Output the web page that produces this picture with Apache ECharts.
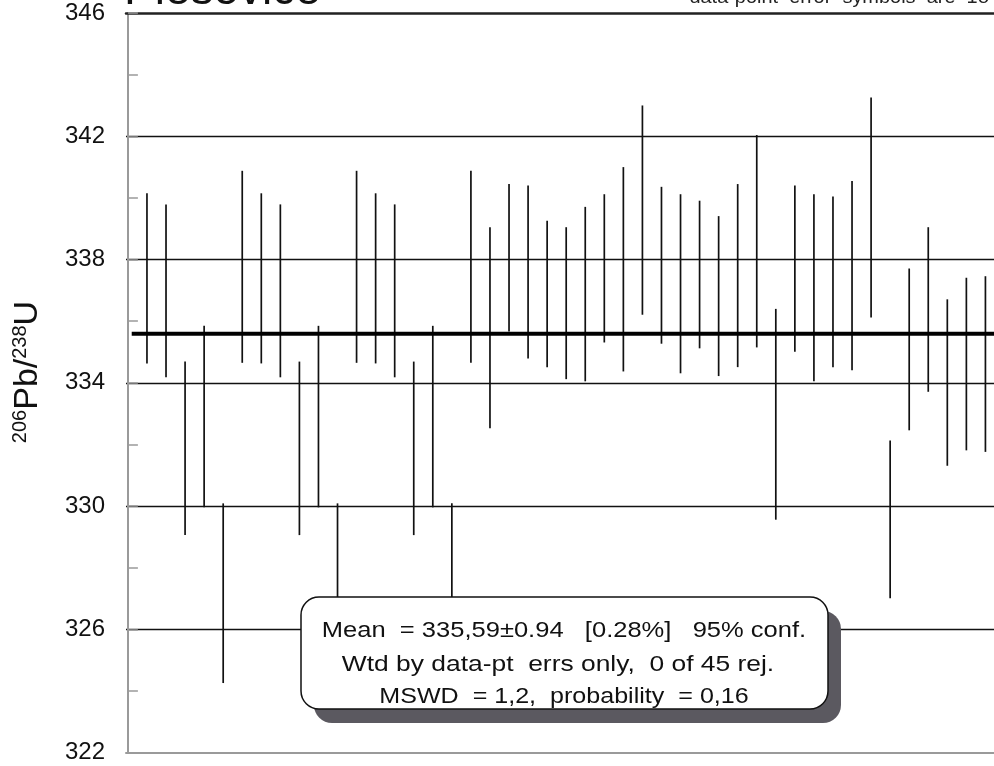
<!DOCTYPE html>
<html>
<head>
<meta charset="utf-8">
<script src="https://cdn.jsdelivr.net/npm/echarts@6/dist/echarts.min.js"></script>
<style>
html,body{margin:0;padding:0;background:#fff;}
#chart{width:994px;height:766px;}
</style>
</head>
<body>
<div id="chart"></div>
<script>
// ---- data ----
const title = 'Plešovice';
const noteText = 'data-point  error  symbols  are  1σ';
const yTicks = [322, 326, 330, 334, 338, 342, 346];
const lowerValues = [
  334.63, 334.18, 329.06, 329.96, 324.26, 334.65,
  334.63, 334.18, 329.06, 329.96, 324.26, 334.65,
  334.63, 334.18, 329.06, 329.96, 324.26, 334.65,
  332.53, 335.67, 334.79, 334.51, 334.12, 334.05,
  335.31, 334.37, 336.21, 335.27, 334.31, 335.12,
  334.22, 334.51, 335.15, 329.56, 335.01, 334.05,
  334.51, 334.41, 336.12, 327.01, 332.46, 333.71,
  331.31, 331.81, 331.76
];
const upperValues = [
  340.15, 339.79, 334.69, 335.85, 330.09, 340.88,
  340.15, 339.79, 334.69, 335.85, 330.09, 340.88,
  340.15, 339.79, 334.69, 335.85, 330.09, 340.88,
  339.05, 340.45, 340.40, 339.26, 339.05, 339.71,
  340.12, 341.00, 343.00, 340.36, 340.12, 339.91,
  339.41, 340.45, 342.04, 336.40, 340.40, 340.12,
  340.05, 340.55, 343.26, 332.13, 337.71, 339.05,
  336.71, 337.41, 337.46
];
const meanValue = 335.59;
const boxLines = [
  'Mean  = 335,59±0.94   [0.28%]   95% conf.',
  'Wtd by data-pt  errs only,  0 of 45 rej.',
  'MSWD  = 1,2,  probability  = 0,16'
];

// ---- chart ----
const chart = echarts.init(document.getElementById('chart'));
const xMin = -0.1, xMax = 45.45;
const FONT = 'Liberation Sans, Arial, sans-serif';
const errData = lowerValues.map((lo, i) => [i + 1, lo, upperValues[i]]);

function boxText(str, cx, cy, sx) {
  return { type: 'text', z: 102, x: cx, y: cy, scaleX: sx,
    style: { text: str, x: 0, y: 0, fontSize: 22, fontFamily: FONT,
      fill: '#111', align: 'center', verticalAlign: 'middle' } };
}

const option = {
  animation: false,
  backgroundColor: '#fff',
  grid: { left: 126, right: 0, top: 13, bottom: 13.3, containLabel: false },
  xAxis: [
    { type: 'value', min: xMin, max: xMax, position: 'bottom',
      axisLine: { show: true, onZero: false, lineStyle: { color: '#9a9a9a', width: 2 } },
      axisTick: { show: false }, axisLabel: { show: false }, splitLine: { show: false } },
    { type: 'value', min: xMin, max: xMax, position: 'top',
      axisLine: { show: true, onZero: false, lineStyle: { color: '#222', width: 2.5 } },
      axisTick: { show: false }, axisLabel: { show: false }, splitLine: { show: false } }
  ],
  yAxis: {
    type: 'value', min: 322, max: 346, interval: 4,
    axisLine: { show: true, lineStyle: { color: '#9a9a9a', width: 2 } },
    axisTick: { show: true, inside: true, length: 10, lineStyle: { color: '#9a9a9a', width: 1.5 } },
    minorTick: { show: true, splitNumber: 2, length: 10, lineStyle: { color: '#9a9a9a', width: 1.5 } },
    axisLabel: { show: true, margin: 21, fontSize: 24, color: '#111', fontFamily: FONT,
      formatter: v => yTicks.indexOf(v) >= 0 ? String(v) : '' },
    splitLine: { show: true, lineStyle: { width: 1.3,
      color: ['rgba(0,0,0,0)', '#111', '#111', '#111', '#111', '#111', 'rgba(0,0,0,0)'] } }
  },
  series: [
    {
      type: 'custom',
      data: errData,
      z: 3,
      renderItem: function (params, api) {
        const x = api.value(0);
        const p1 = api.coord([x, api.value(1)]);
        const p2 = api.coord([x, api.value(2)]);
        return { type: 'line', shape: { x1: p1[0], y1: p1[1], x2: p2[0], y2: p2[1] },
          style: { stroke: '#111', lineWidth: 1.7 } };
      }
    },
    {
      type: 'line',
      data: [[0.2, meanValue], [xMax, meanValue]],
      symbol: 'none',
      z: 4,
      lineStyle: { color: '#000', width: 4 }
    }
  ],
  graphic: [
    { type: 'text', z: 100, style: { text: title, x: 124, y: -9, fontSize: 46, fontFamily: FONT,
        fill: '#111', verticalAlign: 'middle', align: 'left' } },
    { type: 'text', z: 100, x: 990, y: -2, scaleX: 1.05,
      style: { text: noteText, x: 0, y: 0, fontSize: 19, fontFamily: FONT,
        fill: '#222', verticalAlign: 'middle', align: 'right' } },
    { type: 'text', z: 100, x: 28, y: 372, rotation: Math.PI / 2,
      style: { text: '{sup|206}{main|Pb/}{sup|238}{main|U}', align: 'center', verticalAlign: 'middle',
        fill: '#111', fontFamily: FONT,
        rich: { sup: { fontSize: 20, verticalAlign: 'top', lineHeight: 36, fontFamily: FONT, fill: '#111' },
                main: { fontSize: 34, lineHeight: 36, fontFamily: FONT, fill: '#111' } } } },
    { type: 'rect', z: 100, shape: { x: 314, y: 611, width: 527, height: 112, r: 18 },
      style: { fill: '#5b5960' } },
    { type: 'rect', z: 101, shape: { x: 301, y: 597, width: 527, height: 112, r: 18 },
      style: { fill: '#fff', stroke: '#111', lineWidth: 1.5 } },
    boxText(boxLines[0], 564, 631, 1.16),
    boxText(boxLines[1], 558, 665, 1.2),
    boxText(boxLines[2], 564, 697, 1.14)
  ]
};
chart.setOption(option);
</script>
</body>
</html>
